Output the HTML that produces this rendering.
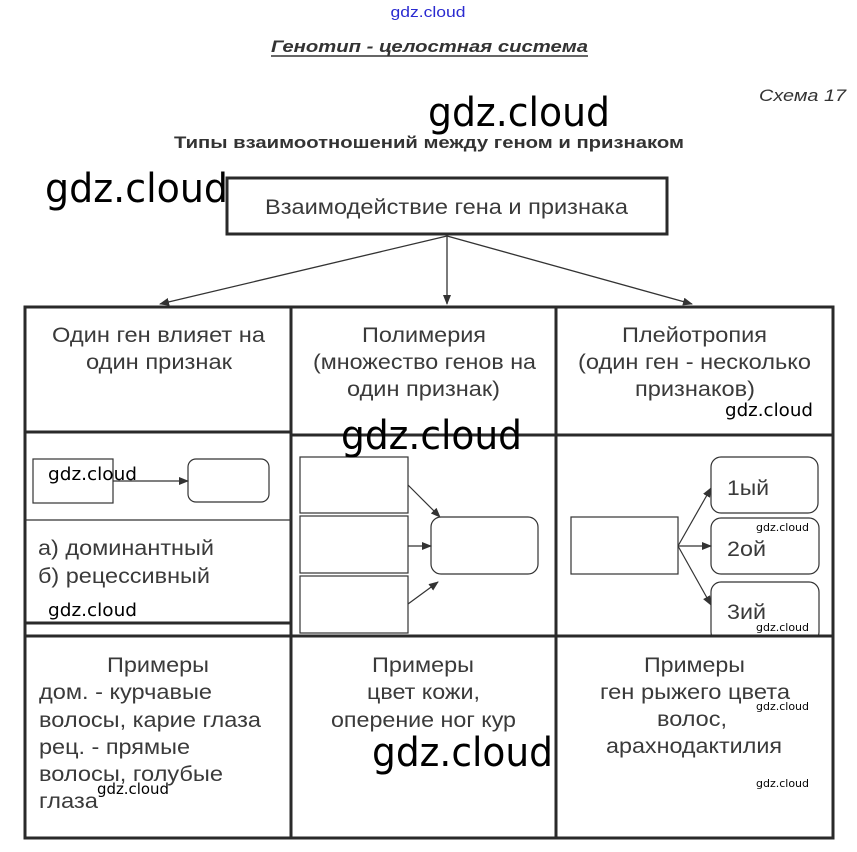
<!DOCTYPE html>
<html><head><meta charset="utf-8"><style>
html,body{margin:0;padding:0;background:#fff;}
svg{display:block;}
text{font-family:"Liberation Sans",sans-serif;}
.t{fill:#3a3a3a;font-size:21px;}
.w{fill:#000;font-family:"DejaVu Sans","Liberation Sans",sans-serif;}
</style></head><body>
<svg width="857" height="852" viewBox="0 0 857 852" xmlns="http://www.w3.org/2000/svg">
<defs><marker id="a" markerWidth="10" markerHeight="8" refX="9" refY="4" orient="auto" markerUnits="userSpaceOnUse"><path d="M0,0 L10,4 L0,8 z" fill="#333"/></marker></defs>
<text x="428" y="17" text-anchor="middle" font-size="15" fill="#2a2ad0" textLength="75" lengthAdjust="spacingAndGlyphs">gdz.cloud</text>
<text x="271" y="52" font-size="17" font-weight="bold" font-style="italic" fill="#333" textLength="317" lengthAdjust="spacingAndGlyphs">Генотип - целостная система</text>
<line x1="271" y1="56" x2="588" y2="56" stroke="#333" stroke-width="1.5"/>
<text x="759" y="101" font-size="17" font-style="italic" fill="#333" textLength="87" lengthAdjust="spacingAndGlyphs">Схема 17</text>
<text x="174" y="148" font-size="17" font-weight="bold" fill="#333" textLength="510" lengthAdjust="spacingAndGlyphs">Типы взаимоотношений между геном и признаком</text>

<rect x="227" y="178" width="440" height="56" fill="none" stroke="#2a2a2a" stroke-width="3"/>
<text class="t" x="265" y="214" textLength="363" lengthAdjust="spacingAndGlyphs">Взаимодействие гена и признака</text>
<g stroke="#333" stroke-width="1.3" marker-end="url(#a)">
<line x1="447" y1="236" x2="160" y2="304"/><line x1="447" y1="236" x2="447" y2="304"/><line x1="447" y1="236" x2="692" y2="304"/>
</g>

<g stroke="#2a2a2a" stroke-width="3" fill="none">
<rect x="25" y="307" width="808" height="531"/>
<line x1="291" y1="307" x2="291" y2="838"/><line x1="556" y1="307" x2="556" y2="838"/>
<line x1="25" y1="432" x2="291" y2="432"/><line x1="291" y1="435" x2="833" y2="435"/>
<line x1="25" y1="623" x2="291" y2="623"/><line x1="25" y1="636" x2="833" y2="636"/>
</g>
<line x1="25" y1="520" x2="291" y2="520" stroke="#333" stroke-width="1.3"/>

<text class="t" x="52" y="342" textLength="213" lengthAdjust="spacingAndGlyphs">Один ген влияет на</text>
<text class="t" x="86" y="369" textLength="146" lengthAdjust="spacingAndGlyphs">один признак</text>
<text class="t" x="362" y="342" textLength="124" lengthAdjust="spacingAndGlyphs">Полимерия</text>
<text class="t" x="313" y="369" textLength="223" lengthAdjust="spacingAndGlyphs">(множество генов на</text>
<text class="t" x="347" y="396" textLength="153" lengthAdjust="spacingAndGlyphs">один признак)</text>
<text class="t" x="622" y="342" textLength="145" lengthAdjust="spacingAndGlyphs">Плейотропия</text>
<text class="t" x="578" y="369" textLength="233" lengthAdjust="spacingAndGlyphs">(один ген - несколько</text>
<text class="t" x="635" y="396" textLength="120" lengthAdjust="spacingAndGlyphs">признаков)</text>

<g stroke="#333" stroke-width="1.2" fill="#fff">
<rect x="33" y="459" width="80" height="44"/>
<rect x="188" y="459" width="81" height="43" rx="8"/>
<rect x="300" y="457" width="108" height="56"/><rect x="300" y="516" width="108" height="57"/><rect x="300" y="576" width="108" height="57"/>
<rect x="431" y="517" width="107" height="57" rx="10"/>
<rect x="571" y="517" width="107" height="57"/>
<rect x="711" y="457" width="107" height="56" rx="10"/><rect x="711" y="518" width="108" height="56" rx="10"/><rect x="711" y="582" width="108" height="60" rx="10"/>
</g>
<rect x="700" y="637" width="130" height="10" fill="#fff"/>
<line x1="556" y1="636" x2="833" y2="636" stroke="#2a2a2a" stroke-width="3"/>
<g stroke="#333" stroke-width="1.2" marker-end="url(#a)">
<line x1="113" y1="481" x2="188" y2="481"/>
<line x1="408" y1="485" x2="440" y2="517"/><line x1="408" y1="546" x2="431" y2="546"/><line x1="408" y1="604" x2="438" y2="582"/>
<line x1="678" y1="546" x2="711" y2="488"/><line x1="678" y1="546" x2="711" y2="546"/><line x1="678" y1="546" x2="711" y2="605"/>
</g>
<text class="t" x="38" y="555" textLength="176" lengthAdjust="spacingAndGlyphs">а) доминантный</text>
<text class="t" x="38" y="583" textLength="172" lengthAdjust="spacingAndGlyphs">б) рецессивный</text>
<text class="t" x="727" y="495" textLength="42" lengthAdjust="spacingAndGlyphs">1ый</text>
<text class="t" x="727" y="556" textLength="39" lengthAdjust="spacingAndGlyphs">2ой</text>
<text class="t" x="727" y="619" textLength="39" lengthAdjust="spacingAndGlyphs">3ий</text>

<text class="t" x="107" y="672" textLength="102" lengthAdjust="spacingAndGlyphs">Примеры</text>
<text class="t" x="39" y="699" textLength="173" lengthAdjust="spacingAndGlyphs">дом. - курчавые</text>
<text class="t" x="39" y="727" textLength="222" lengthAdjust="spacingAndGlyphs">волосы, карие глаза</text>
<text class="t" x="39" y="754" textLength="151" lengthAdjust="spacingAndGlyphs">рец. - прямые</text>
<text class="t" x="39" y="781" textLength="184" lengthAdjust="spacingAndGlyphs">волосы, голубые</text>
<text class="t" x="39" y="808" textLength="59" lengthAdjust="spacingAndGlyphs">глаза</text>
<text class="t" x="372" y="672" textLength="102" lengthAdjust="spacingAndGlyphs">Примеры</text>
<text class="t" x="367" y="699" textLength="113" lengthAdjust="spacingAndGlyphs">цвет кожи,</text>
<text class="t" x="331" y="727" textLength="185" lengthAdjust="spacingAndGlyphs">оперение ног кур</text>
<text class="t" x="644" y="672" textLength="101" lengthAdjust="spacingAndGlyphs">Примеры</text>
<text class="t" x="600" y="699" textLength="190" lengthAdjust="spacingAndGlyphs">ген рыжего цвета</text>
<text class="t" x="657" y="726" textLength="70" lengthAdjust="spacingAndGlyphs">волос,</text>
<text class="t" x="606" y="753" textLength="176" lengthAdjust="spacingAndGlyphs">арахнодактилия</text>

<text class="w" x="428" y="126" font-size="40" textLength="182" lengthAdjust="spacingAndGlyphs">gdz.cloud</text>
<text class="w" x="45" y="202" font-size="40" textLength="183" lengthAdjust="spacingAndGlyphs">gdz.cloud</text>
<text class="w" x="341" y="449" font-size="40" textLength="181" lengthAdjust="spacingAndGlyphs">gdz.cloud</text>
<text class="w" x="372" y="766" font-size="40" textLength="181" lengthAdjust="spacingAndGlyphs">gdz.cloud</text>
<text class="w" x="725" y="416" font-size="18" textLength="88" lengthAdjust="spacingAndGlyphs">gdz.cloud</text>
<text class="w" x="48" y="480" font-size="18" textLength="89" lengthAdjust="spacingAndGlyphs">gdz.cloud</text>
<text class="w" x="48" y="616" font-size="18" textLength="89" lengthAdjust="spacingAndGlyphs">gdz.cloud</text>
<text class="w" x="97" y="794" font-size="15" textLength="72" lengthAdjust="spacingAndGlyphs">gdz.cloud</text>
<text class="w" x="756" y="531" font-size="11" textLength="53" lengthAdjust="spacingAndGlyphs">gdz.cloud</text>
<text class="w" x="756" y="631" font-size="11" textLength="53" lengthAdjust="spacingAndGlyphs">gdz.cloud</text>
<text class="w" x="756" y="710" font-size="11" textLength="53" lengthAdjust="spacingAndGlyphs">gdz.cloud</text>
<text class="w" x="756" y="787" font-size="11" textLength="53" lengthAdjust="spacingAndGlyphs">gdz.cloud</text>
</svg>
</body></html>
